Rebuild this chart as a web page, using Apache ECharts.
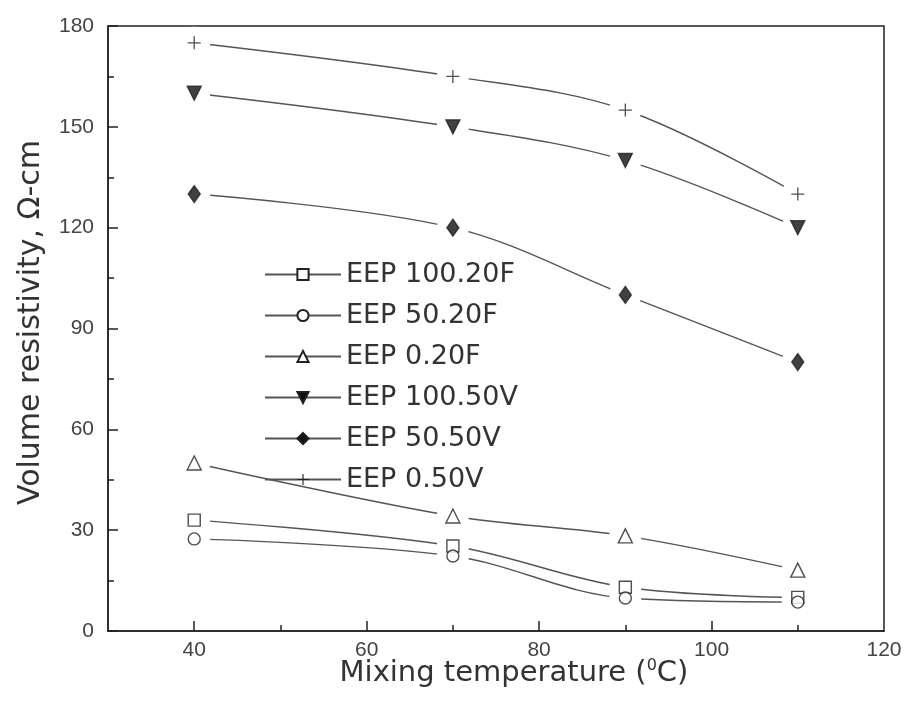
<!DOCTYPE html>
<html><head><meta charset="utf-8">
<script src="https://cdn.jsdelivr.net/npm/echarts@6/dist/echarts.min.js"></script>
<style>html,body{margin:0;padding:0;background:#fff}#c{width:905px;height:704px}</style>
</head><body><div id="c"></div>
<script>
const temps = [40, 70, 90, 110];
const seriesNames = ['EEP 100.20F', 'EEP 50.20F', 'EEP 0.20F', 'EEP 100.50V', 'EEP 50.50V', 'EEP 0.50V'];
const eep100_20F = [33, 25.3, 13, 10];
const eep50_20F = [27.4, 22.3, 9.8, 8.6];
const eep0_20F = [50, 34.2, 28.3, 18.1];
const eep100_50V = [160, 150, 140, 120];
const eep50_50V = [130, 120, 100, 80];
const eep0_50V = [175, 165, 155, 130];
const xTickLabels = [40, 60, 80, 100, 120];
const yTickLabels = [0, 30, 60, 90, 120, 150, 180];

const values = [eep100_20F, eep50_20F, eep0_20F, eep100_50V, eep50_50V, eep0_50V];
const plusPath = 'path://M5.4,0H6.6V5.4H12V6.6H6.6V12H5.4V6.6H0V5.4H5.4Z';
const markers = [
  {symbol: 'rect', size: 12, fill: '#fff', rotate: 0},
  {symbol: 'circle', size: 12, fill: '#fff', rotate: 0},
  {symbol: 'triangle', size: 14, fill: '#fff', rotate: 0},
  {symbol: 'triangle', size: 14, fill: '#111', rotate: 180},
  {symbol: 'diamond', size: [12, 17], fill: '#111', rotate: 0},
  {symbol: plusPath, size: 13, fill: '#222', rotate: 0, noBorder: true}
];
const lineColor = '#555';
const titleFont = 'DejaVu Sans, sans-serif';
const series = [];
values.forEach((vals, i) => {
  const m = markers[i];
  const pts = temps.map((t, k) => [t, vals[k]]);
  series.push({
    name: seriesNames[i], type: 'line', data: pts, smooth: 0.35, z: 1, zlevel: 0,
    showSymbol: false, symbol: m.symbol, symbolRotate: m.rotate,
    lineStyle: {color: lineColor, width: 1.4},
    itemStyle: {color: m.fill, borderColor: '#222', borderWidth: m.noBorder ? 0 : 1.4},
    emphasis: {disabled: true}, silent: true
  });
});
values.forEach((vals, i) => {
  const pts = temps.map((t, k) => [t, vals[k]]);
  series.push({
    name: 'mask' + i, type: 'scatter', data: pts, z: 1, zlevel: 1, silent: true,
    symbol: 'circle', symbolSize: 32, itemStyle: {color: '#ffffff', opacity: 1}
  });
});
values.forEach((vals, i) => {
  const m = markers[i];
  const pts = temps.map((t, k) => [t, vals[k]]);
  series.push({
    name: seriesNames[i], type: 'scatter', data: pts, z: 5, zlevel: 1, silent: true,
    symbol: m.symbol, symbolSize: m.size, symbolRotate: m.rotate,
    itemStyle: {color: m.fill, borderColor: '#222', borderWidth: m.noBorder ? 0 : 1.4}
  });
});

const chart = echarts.init(document.getElementById('c'), null, {renderer: 'canvas'});
chart.setOption({
  animation: false,
  backgroundColor: '#fff',
  textStyle: {fontFamily: 'Liberation Sans, Arial, sans-serif'},
  grid: {left: 108, right: 21, top: 26, bottom: 73, show: true, borderColor: '#222', borderWidth: 1.5, containLabel: false},
  legend: {
    data: seriesNames, orient: 'vertical', left: 259, top: 256,
    itemWidth: 76, itemHeight: 14, itemGap: 14,
    textStyle: {fontSize: 27, color: '#333', fontFamily: titleFont},
    selectedMode: false
  },
  xAxis: [{
    type: 'value', min: 30, max: 120, interval: 10,
    splitLine: {show: false},
    axisLine: {lineStyle: {color: '#222', width: 1.5}},
    axisTick: {inside: true, length: 10, customValues: [40, 60, 80, 100], lineStyle: {color: '#222', width: 1.5}},
    axisLabel: {customValues: xTickLabels, fontSize: 21, color: '#444', margin: 9, fontFamily: 'Liberation Sans'},
    name: '{a|Mixing temperature (}{s|0}{a|C)}', nameLocation: 'middle', nameGap: 27, nameMoveOverlap: false,
    nameTextStyle: {padding: [0, 0, 0, 36], rich: {a: {fontSize: 29, color: '#333', fontFamily: titleFont}, s: {fontSize: 16, color: '#333', fontFamily: titleFont, padding: [0, 0, 14, 0]}}}
  }, {
    type: 'value', min: 30, max: 120, interval: 10, position: 'bottom',
    splitLine: {show: false}, axisLine: {show: false},
    axisTick: {inside: true, length: 6, customValues: [50, 70, 90, 110], lineStyle: {color: '#222', width: 1.5}},
    axisLabel: {show: false}
  }],
  yAxis: {
    type: 'value', min: 0, max: 180, interval: 30,
    splitLine: {show: false},
    axisLine: {lineStyle: {color: '#222', width: 1.5}},
    axisTick: {inside: true, length: 10, lineStyle: {color: '#222', width: 1.5}},
    minorTick: {show: true, splitNumber: 2, length: 6, lineStyle: {color: '#222', width: 1.5}},
    axisLabel: {customValues: yTickLabels, fontSize: 21, color: '#444', margin: 14, fontFamily: 'Liberation Sans'},
    name: 'Volume resistivity, Ω-cm', nameLocation: 'middle', nameGap: 62,
    nameTextStyle: {fontSize: 30, color: '#333', fontFamily: titleFont, padding: [0, 0, 0, 12]}
  },
  series: series
});
</script></body></html>
